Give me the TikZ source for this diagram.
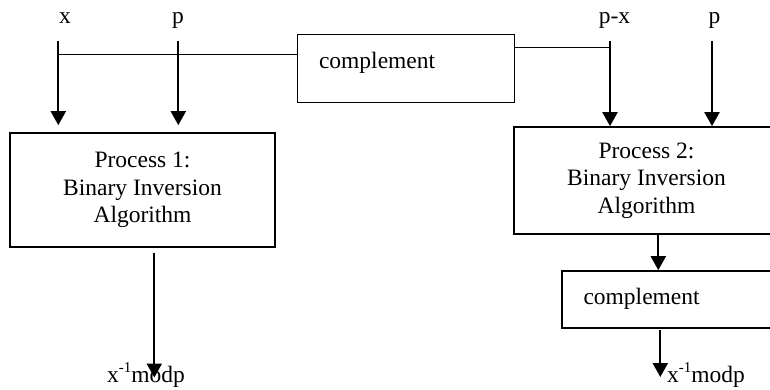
\documentclass[tikz,border=0pt]{standalone}
\usepackage{fontspec}
\setmainfont{Liberation Serif}
\usetikzlibrary{arrows.meta}
\newcommand{\supm}{\raisebox{10pt}{\fontsize{15}{16}\selectfont -1}}
\begin{document}
\begin{tikzpicture}[x=1pt,y=-1pt,
  every node/.style={font=\fontsize{23.5}{27.5}\selectfont, inner sep=0pt},
  procbox/.style={draw, line width=1.7pt, align=center, minimum width=265pt},
  compbox/.style={draw, line width=1.7pt, minimum width=217pt, text width=174pt, align=left, inner xsep=21.5pt},
  arr/.style={line width=2.2pt, -{Triangle[length=14pt,width=15pt]}},
  thin/.style={line width=1.2pt},
  lbl/.style={anchor=base}
]
\clip (0,0) rectangle (770,390);
\fill[white] (0,0) rectangle (770,390);

% boxes
\node[procbox, minimum height=114pt] (p1) at (142.5,190) {Process 1:\\Binary Inversion\\Algorithm};
\node[procbox, minimum height=107pt] (p2) at (646.5,180.5) {Process 2:\\Binary Inversion\\Algorithm};
\node[compbox, minimum height=68pt, text height=9pt, text depth=8pt] (c1) at (406,68.5) {complement};
\node[compbox, minimum height=57pt, text height=14pt, text depth=5pt] (c2) at (670.5,299.5) {complement};

% labels
\node[lbl] (lx) at (65,23.5) {x};
\node[lbl] (lp1) at (178,23.5) {p};
\node[lbl] (lpx) at (614.5,23.5) {p-x};
\node[lbl] (lp2) at (714.5,23.5) {p};
\node[anchor=base west] (o1) at (107,382.5) {x\supm modp};
\node[anchor=base west] (o2) at (667,382) {x\supm modp};

% start points
\coordinate (sx) at (58.3,41);
\coordinate (sp1) at (178.3,41);
\coordinate (spx) at (610,41);
\coordinate (sp2) at (712,41);
\coordinate (j1) at (58.3,54.5);
\coordinate (j2) at (610,47.5);
\coordinate (a3) at (658.3,234);
\coordinate (o1s) at (154.3,253);
\coordinate (o1e) at (154.3,377.5);
\coordinate (o2s) at (660.3,330);
\coordinate (o2e) at (660.3,377);

% connectors
\draw[thin] (j1) -- (j1 -| c1.west);
\draw[thin] (c1.east |- j2) -- (j2);
\draw[arr, shorten >=7pt] (sx) -- (sx |- p1.north);
\draw[arr, shorten >=7pt] (sp1) -- (sp1 |- p1.north);
\draw[arr] (spx) -- (spx |- p2.north);
\draw[arr] (sp2) -- (sp2 |- p2.north);
\draw[arr] (a3 |- p2.south) -- (a3 |- c2.north);
\draw[arr] (o1s) -- (o1e);
\draw[arr] (o2s) -- (o2e);
\end{tikzpicture}
\end{document}
